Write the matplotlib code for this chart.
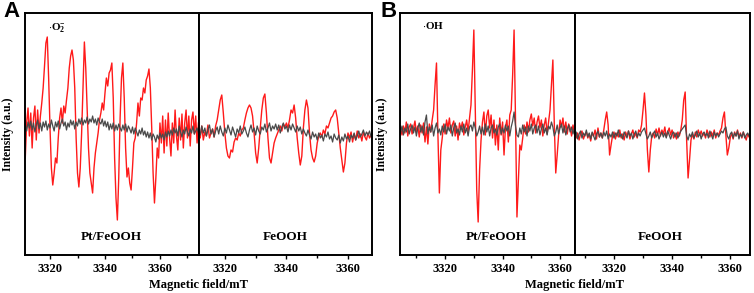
import numpy as np
import matplotlib
matplotlib.use('Agg')
import matplotlib.pyplot as plt
from matplotlib.ticker import MultipleLocator

plt.rcParams['font.family'] = 'Liberation Serif'
plt.rcParams['font.weight'] = 'bold'
plt.rcParams['mathtext.fontset'] = 'custom'
plt.rcParams['mathtext.rm'] = 'Liberation Serif:bold'
plt.rcParams['mathtext.bf'] = 'Liberation Serif:bold'

STEP = 0.5  # field step of the spectra, mT

# ---- Panel A: superoxide radical (DMPO-O2-) ----
a_pt_start = 3311.0
a_pt_red = [-30, 5, 20, -8, 15, -20, 10, 22, -12, 18,
            -5, 12, 25, 40, 62, 85, 91, 50, 0, -40,
            -57, -45, -30, -35, -10, 10, 20, 5, 22, 15,
            28, 40, 60, 72, 78, 68, 40, -10, -45, -59,
            -40, -5, 40, 86, 60, 20, -20, -45, -55, -65,
            -40, -25, -15, -5, 8, 15, 25, 18, 35, 50,
            42, 55, 58, 65, 30, -30, -70, -92, -50, 10,
            50, 65, 30, -20, -49, -40, -55, -62, -40, -15,
            -10, 5, 25, 12, 30, 28, 40, 35, 48, 52,
            59, 40, 0, -45, -75, -50, -20, -30, 5, -15,
            12, -25, 8, -18, 15, -10, -28, 5, -15, 18,
            -8, -22, 10, -12, 14, -20, 5, 18, -10, 12,
            -18, 8, 16, -6, 12, -15, 5]
a_pt_gray = [4, -3, 6, 0, 7, -2, 5, -4, 3, 8,
             -1, 5, -3, 6, 1, 7, -2, 4, 0, 8,
             2, -3, 6, 1, 7, -1, 5, 9, 2, 6,
             -2, 5, 1, 8, 3, 7, -1, 6, 2, 9,
             4, 10, 3, 8, 5, 11, 4, 9, 6, 12,
             5, 9, 3, 10, 6, 4, 9, 2, 7, 1,
             6, -2, 4, -1, 5, -3, 3, -2, 4, 0,
             -3, 3, -2, 4, -4, 2, -1, -5, 1, -6,
             0, -4, -8, -2, -6, 0, -7, -3, -9, -4,
             -10, -5, -12, -6, -9, -14, -7, -11, -5, -10,
             -6, -12, -4, -9, -3, -8, -2, -7, 0, -5,
             -1, -8, 2, -4, -9, -2, -6, 1, -4, -8,
             -1, -5, 2, -6, -3, 0, -5]

a_fe_start = 3311.5
a_fe_red = [-3, -10, 2, -12, -4, -8, 3, -10, -5, -1,
            -9, 2, 8, 18, 28, 33, 15, -5, -20, -28,
            -30, -22, -24, -14, -10, -12, -5, -8, -2, 0,
            8, 15, 20, 23, 20, 12, -5, -25, -35, -20,
            0, 18, 30, 34, 15, -10, -30, -35, -25, -15,
            -10, -6, -2, 2, -3, 4, 1, 5, 0, 8,
            18, 15, 23, 10, -10, -25, -37, -28, 0, 18,
            28, 20, -5, -22, -30, -34, -28, -15, -8, -5,
            -9, -2, -6, 2, 0, 5, 10, 12, 16, 18,
            10, -5, -20, -32, -44, -35, -15, -5, -10, -4,
            -14, -6, -12, -3, -10, -6, -13, -4, -9, -12,
            -5, -10, -7, -11]
a_fe_gray = [-1, -7, 2, -5, 0, -8, -2, 3, -6, -1,
             -9, -3, 1, -6, 2, -4, -8, 0, -5, 3,
             -2, -7, 1, -4, -9, -1, -5, 2, -6, -3,
             1, -5, -9, -2, 3, -4, 0, -7, 2, -3,
             -6, 1, -2, 4, -4, 0, 5, -3, 2, -1,
             4, -2, 3, -5, 1, 5, -1, 2, -4, 3,
             -2, 4, 0, -4, 2, -3, 1, -6, -1, -5,
             -8, -2, -7, -11, -4, -9, -6, -12, -5, -10,
             -7, -13, -6, -9, -4, -11, -8, -14, -6, -10,
             -12, -7, -15, -9, -13, -6, -11, -8, -14, -7,
             -10, -5, -12, -8, -3, -9, -6, -2, -8, -4,
             -7, -3, -9, -5]

# ---- Panel B: hydroxyl radical (DMPO-OH) ----
b_pt_start = 3304.5
b_pt_red = [2, -5, 4, -3, 8, -6, 3, 6, -4, 2,
            9, -2, 4, -7, 5, -3, 7, -12, 3, -14,
            6, -2, 10, 20, 45, 67, -5, -63, -20, -8,
            6, -4, 10, 2, 12, -3, 5, 9, -6, 4,
            -10, 7, 1, 8, -5, 3, 10, -2, 12, 25,
            60, 100, 20, -60, -92, -40, -10, 8, 18, -5,
            14, 20, 2, 15, -8, 10, -15, 5, -20, 12,
            -5, 8, -25, 3, 10, -12, 15, 20, 55, 100,
            10, -87, -50, -15, -20, -8, 5, -4, 8, -2,
            10, 16, 4, 12, -3, 8, 14, 2, 10, -6,
            5, 12, -4, 8, 20, 45, 70, 5, -43, -25,
            -5, 10, 3, 12, -2, 8, -4, 6, 2, -6,
            5, -3, 4]
b_pt_gray = [-3, 4, -5, 2, -2, 6, -4, 1, 5, -3,
             3, -6, 2, 7, -2, 4, -5, 8, 15, -4,
             3, -2, 5, -6, 2, 7, -3, 1, -5, 4,
             -2, 6, -4, 3, -1, 5, -6, 2, 7, -3,
             1, -5, 4, -2, 6, -3, 2, -6, 3, 5,
             -1, 8, 2, -6, -2, 4, -4, 3, -5, 6,
             -2, 4, -6, 2, 5, -3, 1, -5, 3, 6,
             -4, 2, -3, 5, -1, 4, -6, 3, 9, 18,
             4, -5, -7, 2, -4, 5, -2, 3, -6, 4,
             -1, 6, -4, 2, 5, -3, 4, -5, 1, 6,
             -3, 2, -5, 4, 1, 8, 3, -6, -2, 5,
             -4, 2, 6, -3, 4, -5, 1, 5, -2, 3,
             -4, 2, -1]

b_fe_start = 3306.5
b_fe_red = [-2, -8, -3, -10, -4, -1, -9, -5, -2, -8,
            -4, -11, -3, -6, 0, -9, 2, -7, -3, -8,
            0, 10, 18, 5, -25, -15, -6, -2, -9, -3,
            -7, 0, -8, -4, -10, -2, -6, -1, -9, -4,
            0, -7, -3, -8, 0, -2, 5, 20, 37, 15,
            -20, -42, -20, -6, -3, -8, 1, -5, 2, -6,
            0, -4, 3, -7, -2, 2, -5, 0, -8, -3,
            -9, -2, -6, 0, 10, 30, 38, -10, -48, -30,
            -10, -4, -9, -2, -7, 0, -5, -1, -6, -3,
            -8, 0, -4, -7, -2, -6, 0, -8, -3, -5,
            -1, 2, 12, 18, -5, -25, -18, -8, -3, -9,
            -2, -6, 0, -7, -3, -8, -2, -6, -10, -4,
            -7]
b_fe_gray = [-7, -2, -9, -4, -1, -8, -3, -6, 0, -7,
             -3, -9, -2, -6, -10, -4, -1, -7, -3, -8,
             -2, -6, -1, -9, -4, -7, -2, -8, -3, -6,
             0, -7, -4, -9, -2, -5, -8, -1, -6, -3,
             -9, -4, -1, -7, -3, -6, -2, 0, 2, -4,
             -9, -6, -2, -8, -4, -1, -7, -3, -9, -5,
             -2, -7, -3, -8, -1, -5, -9, -4, -2, -7,
             -3, -8, -4, -1, 1, 3, 5, -6, -10, -4,
             -7, -2, -8, -5, -1, -7, -3, -9, -4, -2,
             -6, -3, -8, -1, -5, -9, -2, -6, -3, -7,
             -4, -1, -3, 1, 3, -6, -9, -4, -2, -8,
             -3, -6, -1, -9, -4, -7, -2, -8, -5, -3,
             -6]

W, H = 754, 293
fig = plt.figure(figsize=(W / 100, H / 100), dpi=100)


def px_axes(x0, x1, y0, y1):
    # axes box given in pixel coords of the reference (y from top)
    return fig.add_axes([x0 / W, 1 - y1 / H, (x1 - x0) / W, (y1 - y0) / H])


def draw(ax, start, red, gray, xlim, ylim, name, name_x):
    field = start + STEP * np.arange(len(red))
    field_g = start + STEP * np.arange(len(gray))
    ax.plot(field, red, color='#ff1a1a', lw=1.0)
    ax.plot(field_g, gray, color='#4a4a4a', lw=0.9)
    ax.set_xlim(*xlim)
    ax.set_ylim(*ylim)
    ax.set_yticks([])
    ax.xaxis.set_major_locator(MultipleLocator(20))
    ax.xaxis.set_minor_locator(MultipleLocator(10))
    ax.tick_params(axis='x', which='major', direction='out', length=3, width=1, pad=3, labelsize=9)
    ax.tick_params(axis='x', which='minor', direction='out', length=2, width=1)
    for s in ax.spines.values():
        s.set_linewidth(1.4)
    ax.text(name_x, 0.074, name, transform=ax.transAxes, ha='center', va='center', fontsize=9.5)


ax1 = px_axes(25, 199, 13, 255)
draw(ax1, a_pt_start, a_pt_red, a_pt_gray, (3310.9, 3374.2), (-127, 115), 'Pt/FeOOH', 0.494)
ax2 = px_axes(199, 372, 13, 255)
draw(ax2, a_fe_start, a_fe_red, a_fe_gray, (3311.6, 3367.8), (-127, 115), 'FeOOH', 0.5)
ax3 = px_axes(400, 575, 13, 255)
draw(ax3, b_pt_start, b_pt_red, b_pt_gray, (3304.3, 3365.2), (-125, 117), 'Pt/FeOOH', 0.549)
ax4 = px_axes(575, 750, 13, 255)
draw(ax4, b_fe_start, b_fe_red, b_fe_gray, (3306.6, 3366.8), (-125, 117), 'FeOOH', 0.489)

ax1.text(0.132, 0.938, r'$\cdot\mathbf{O_2^{-}}$', transform=ax1.transAxes, ha='left', va='center', fontsize=8)
ax3.text(0.126, 0.95, r'$\cdot$OH', transform=ax3.transAxes, ha='left', va='center', fontsize=8)

# panel letters, axis titles
fig.text(3 / W, 1 - 1 / H, 'A', family='Liberation Sans', fontsize=16, fontweight='bold', ha='left', va='top')
fig.text(380 / W, 1 - 1 / H, 'B', family='Liberation Sans', fontsize=16, fontweight='bold', ha='left', va='top')
for xc in (8.5, 382.5):
    fig.text(xc / W, 1 - 134 / H, 'Intensity (a.u.)', rotation=90, ha='center', va='center', fontsize=8.5)
for xc in (198.5, 574.5):
    fig.text(xc / W, 1 - 285 / H, 'Magnetic field/mT', ha='center', va='center', fontsize=9)

fig.savefig('out.png', dpi=100)
